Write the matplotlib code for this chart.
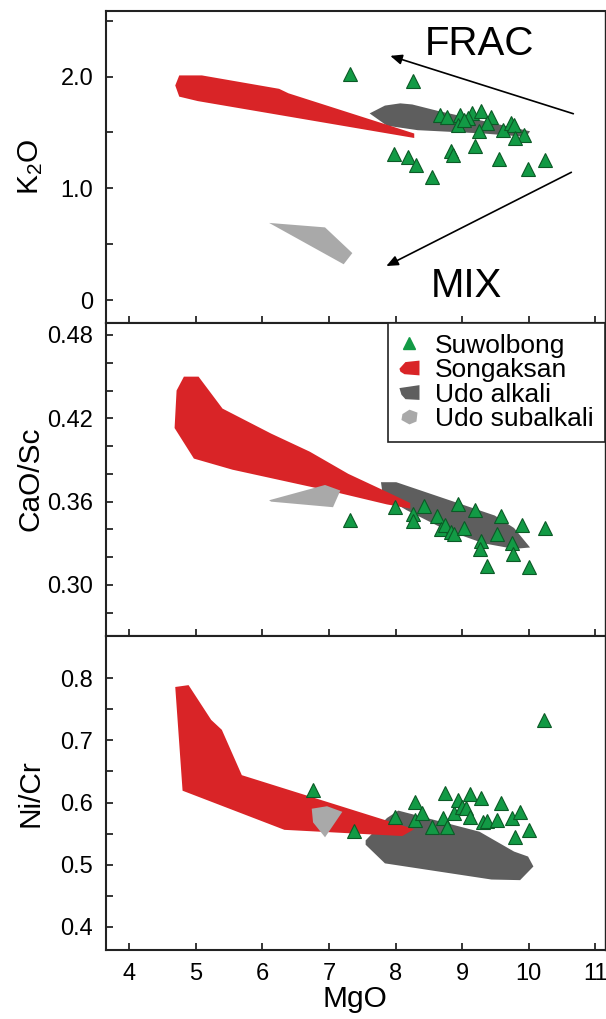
import matplotlib
matplotlib.use("Agg")
import matplotlib.pyplot as plt
from matplotlib.patches import Polygon, Patch
from matplotlib.lines import Line2D
from matplotlib.legend_handler import HandlerPatch

plt.rcParams['font.family'] = ['Liberation Sans', 'DejaVu Sans']
plt.rcParams['mathtext.fontset'] = 'custom'
plt.rcParams['mathtext.rm'] = 'Liberation Sans'
plt.rcParams['mathtext.default'] = 'regular'

# colours
RED = '#d92427'
DARK = '#5e5e5e'
LIGHT = '#a9a9a9'
GREEN = '#129a45'
GREEN_EDGE = '#0b5a26'

# ---- K2O panel ----
k2o_suw_mgo = [7.32, 8.26, 8.67, 8.77, 8.97, 9.15, 9.29, 9.09, 8.94, 9.44, 9.38, 9.26,
               9.61, 9.73, 9.78, 9.93, 9.80, 7.97, 8.19, 8.30, 8.54, 8.83, 8.86, 9.20,
               9.55, 9.99, 10.24, 9.03]
k2o_suw = [2.02, 1.96, 1.66, 1.64, 1.66, 1.67, 1.69, 1.63, 1.57, 1.64, 1.58, 1.51,
           1.52, 1.58, 1.57, 1.48, 1.45, 1.31, 1.28, 1.21, 1.10, 1.33, 1.30, 1.38,
           1.26, 1.17, 1.25, 1.61]
k2o_song_mgo = [4.69, 4.75, 5.09, 6.25, 6.39, 8.28, 8.28, 5.03, 4.75]
k2o_song = [1.92, 2.01, 2.01, 1.89, 1.85, 1.49, 1.45, 1.78, 1.82]
k2o_alk_mgo = [7.61, 7.84, 8.07, 8.25, 8.65, 10.02, 9.96, 9.32, 8.33, 7.87]
k2o_alk = [1.67, 1.74, 1.76, 1.75, 1.69, 1.51, 1.46, 1.49, 1.52, 1.56]
k2o_sub_mgo = [6.10, 6.94, 7.35, 7.22]
k2o_sub = [0.69, 0.65, 0.42, 0.32]

# ---- CaO/Sc panel ----
cas_suw_mgo = [7.32, 7.99, 8.26, 8.26, 8.42, 8.62, 8.68, 8.74, 8.83, 8.88, 8.94, 9.02,
               9.20, 9.29, 9.27, 9.38, 9.52, 9.59, 9.75, 9.77, 9.90, 10.00, 10.25]
cas_suw = [0.347, 0.356, 0.351, 0.346, 0.357, 0.350, 0.340, 0.343, 0.338, 0.337, 0.358,
           0.341, 0.354, 0.332, 0.326, 0.314, 0.337, 0.350, 0.330, 0.322, 0.343, 0.313, 0.341]
cas_song_mgo = [4.71, 4.82, 5.04, 5.40, 6.13, 6.71, 7.29, 7.87, 8.22, 8.22, 7.87, 7.17,
                5.55, 4.97, 4.68]
cas_song = [0.440, 0.450, 0.450, 0.427, 0.409, 0.396, 0.380, 0.367, 0.359, 0.355, 0.358,
            0.366, 0.383, 0.391, 0.413]
cas_alk_mgo = [7.78, 8.01, 9.49, 9.78, 10.02, 9.78, 9.32, 8.74, 8.16, 7.81]
cas_alk = [0.374, 0.374, 0.350, 0.341, 0.327, 0.326, 0.330, 0.340, 0.354, 0.364]
cas_sub_mgo = [6.10, 6.94, 7.17, 7.06, 6.13]
cas_sub = [0.361, 0.372, 0.368, 0.356, 0.360]

# ---- Ni/Cr panel ----
nic_suw_mgo = [6.76, 7.38, 7.99, 8.29, 8.29, 8.39, 8.55, 8.71, 8.74, 8.77, 8.88, 8.94,
               9.00, 9.06, 9.12, 9.12, 9.29, 9.32, 9.38, 9.52, 9.59, 9.75, 9.87, 9.80,
               10.00, 10.23]
nic_suw = [0.620, 0.554, 0.576, 0.601, 0.572, 0.583, 0.560, 0.575, 0.615, 0.561, 0.583,
           0.604, 0.593, 0.591, 0.614, 0.577, 0.607, 0.568, 0.571, 0.572, 0.600, 0.575,
           0.584, 0.545, 0.556, 0.733]
nic_song_mgo = [4.69, 4.89, 5.23, 5.39, 5.69, 8.28, 8.10, 6.33, 4.80]
nic_song = [0.786, 0.789, 0.733, 0.717, 0.644, 0.557, 0.546, 0.556, 0.619]
nic_alk_mgo = [7.87, 8.04, 9.26, 9.78, 9.99, 10.07, 9.87, 9.44, 7.84, 7.55, 7.55]
nic_alk = [0.575, 0.587, 0.553, 0.521, 0.513, 0.497, 0.475, 0.476, 0.502, 0.532, 0.539]
nic_sub_mgo = [6.74, 6.97, 7.20, 6.94, 6.76]
nic_sub = [0.590, 0.594, 0.585, 0.544, 0.568]

# axis setup
x_ticks = [4, 5, 6, 7, 8, 9, 10, 11]
k2o_ticks = [0, 1.0, 2.0]
k2o_labels = ['0', '1.0', '2.0']
k2o_minor = [0.5, 1.5, 2.5]
cas_ticks = [0.30, 0.36, 0.42, 0.48]
cas_labels = ['0.30', '0.36', '0.42', '0.48']
cas_minor = [0.28, 0.32, 0.34, 0.38, 0.40, 0.44, 0.46]
nic_ticks = [0.4, 0.5, 0.6, 0.7, 0.8]
nic_labels = ['0.4', '0.5', '0.6', '0.7', '0.8']
nic_minor = [0.45, 0.55, 0.65, 0.75]

fig = plt.figure(figsize=(6.06, 10.19), dpi=100)
L, W = 0.1744, 0.824
ax1 = fig.add_axes([L, 0.6833, W, 0.3062])
ax2 = fig.add_axes([L, 0.3759, W, 0.3075])
ax3 = fig.add_axes([L, 0.0677, W, 0.3081])

panels = [
    (ax1, k2o_suw_mgo, k2o_suw, k2o_song_mgo, k2o_song, k2o_alk_mgo, k2o_alk, k2o_sub_mgo, k2o_sub,
     (-0.203, 2.589), k2o_ticks, k2o_labels, k2o_minor, 'K$_2$O'),
    (ax2, cas_suw_mgo, cas_suw, cas_song_mgo, cas_song, cas_alk_mgo, cas_alk, cas_sub_mgo, cas_sub,
     (0.2633, 0.4889), cas_ticks, cas_labels, cas_minor, 'CaO/Sc'),
    (ax3, nic_suw_mgo, nic_suw, nic_song_mgo, nic_song, nic_alk_mgo, nic_alk, nic_sub_mgo, nic_sub,
     (0.3625, 0.868), nic_ticks, nic_labels, nic_minor, 'Ni/Cr'),
]

for (ax, sx, sy, rx, ry, dx, dy, lx, ly, ylim, yt, ytl, ym, ylab) in panels:
    ax.fill(dx, dy, color=DARK, lw=0, zorder=2)
    ax.fill(rx, ry, color=RED, lw=0, zorder=3)
    ax.fill(lx, ly, color=LIGHT, lw=0, zorder=4)
    ax.plot(sx, sy, '^', ms=10, mfc=GREEN, mec=GREEN_EDGE, mew=0.8, ls='none', zorder=5)
    ax.set_xlim(3.645, 11.146)
    ax.set_ylim(*ylim)
    ax.set_xticks(x_ticks)
    ax.set_yticks(yt, ytl)
    ax.set_yticks(ym, minor=True)
    ax.tick_params(which='both', direction='in', length=5, width=1.1,
                   top=False, right=False, labelsize=17, pad=9)
    for s in ax.spines.values():
        s.set_linewidth(1.5)
        s.set_color('#222222')
    ax.spines['right'].set_linewidth(1.0)
    ax.set_ylabel(ylab, fontsize=21.5)
    ax.yaxis.set_label_coords(-0.122, 0.5)

ax1.tick_params(labelbottom=False)
ax2.tick_params(labelbottom=False)
ax3.set_xlabel('MgO', fontsize=21.5, labelpad=0)

# trend arrows
ax1.annotate('', xy=(7.92, 2.185), xytext=(10.67, 1.667),
             arrowprops=dict(arrowstyle='-|>,head_length=0.7,head_width=0.3',
                             color='black', lw=1.2, shrinkA=0, shrinkB=0))
ax1.annotate('', xy=(7.86, 0.304), xytext=(10.64, 1.143),
             arrowprops=dict(arrowstyle='-|>,head_length=0.7,head_width=0.3',
                             color='black', lw=1.2, shrinkA=0, shrinkB=0))
ax1.text(8.44, 2.19, 'FRAC', fontsize=29, ha='left', va='baseline')
ax1.text(8.53, 0.027, 'MIX', fontsize=29, ha='left', va='baseline')


# legend icons
def shape_func(pts):
    def make(legend, orig_handle, xdescent, ydescent, width, height, fontsize):
        return Polygon([(-xdescent + px * width, -ydescent + height * (0.1 + 0.8 * py))
                        for px, py in pts], closed=True)
    return make


red_pts = [(0.0, 0.45), (0.3, 0.9), (1.0, 1.0), (1.0, 0.0), (0.25, 0.08), (0.05, 0.25)]
dark_pts = [(0.0, 0.8), (1.0, 1.0), (1.0, 0.0), (0.3, 0.05), (0.1, 0.35)]
light_pts = [(0.15, 0.7), (0.5, 1.0), (0.9, 0.8), (0.85, 0.2), (0.5, 0.0), (0.1, 0.3)]

h_tri = Line2D([], [], marker='^', ms=8, mfc=GREEN, mec=GREEN, ls='none')
h_red = Patch(facecolor=RED, edgecolor='none')
h_dark = Patch(facecolor=DARK, edgecolor='none')
h_light = Patch(facecolor=LIGHT, edgecolor='none')

leg = ax2.legend([h_tri, h_red, h_dark, h_light],
                 ['Suwolbong', 'Songaksan', 'Udo alkali', 'Udo subalkali'],
                 loc='upper right', borderaxespad=0, fontsize=19,
                 handlelength=0.76, handletextpad=0.6, borderpad=0.42,
                 labelspacing=0.02, fancybox=False, framealpha=1,
                 handler_map={h_red: HandlerPatch(patch_func=shape_func(red_pts)),
                              h_dark: HandlerPatch(patch_func=shape_func(dark_pts)),
                              h_light: HandlerPatch(patch_func=shape_func(light_pts))})
leg.get_frame().set_edgecolor('#222222')
leg.get_frame().set_linewidth(1.2)
leg.set_zorder(10)

fig.savefig('out.png', dpi=100)
